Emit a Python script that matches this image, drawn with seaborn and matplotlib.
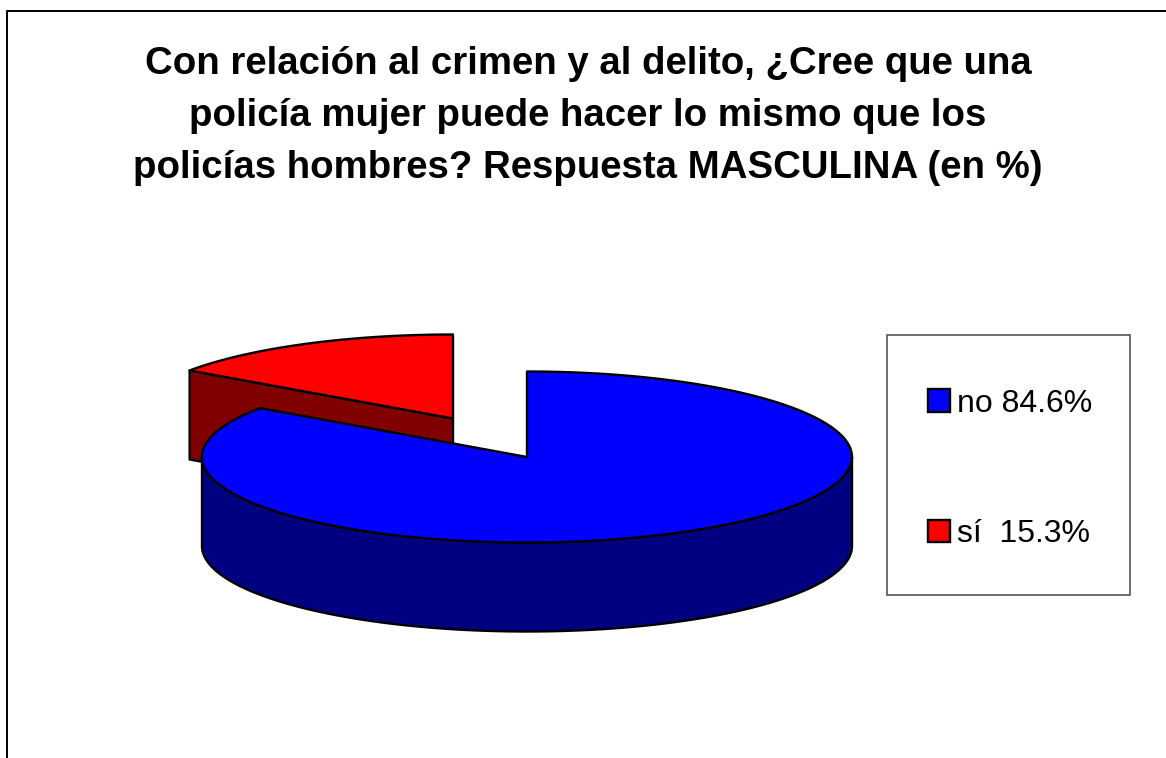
import numpy as np
import matplotlib
matplotlib.use("Agg")
import matplotlib.pyplot as plt
from matplotlib.patches import Patch, Rectangle
import seaborn as sns

# datos de la torta
categorias = ["no", "sí"]
valores = [84.6, 15.3]
etiquetas = ["no 84.6%", "sí  15.3%"]
colores_top = ["#0000ff", "#ff0000"]
colores_lado = ["#000080", "#800000"]
titulo = ("Con relación al crimen y al delito, ¿Cree que una\n"
          "policía mujer puede hacer lo mismo que los\n"
          "policías hombres? Respuesta MASCULINA (en %)")

sns.set_theme(style="white")
plt.rcParams["font.family"] = ["Liberation Sans", "DejaVu Sans"]

fig = plt.figure(figsize=(11.66, 7.58), dpi=100)
ax = fig.add_axes([0, 0, 1, 1])
ax.set_xlim(0, 1166)
ax.set_ylim(758, 0)
ax.axis("off")

# marco exterior: solo se ve arriba y a la izquierda
ax.plot([7, 7, 1166], [758, 11, 11], color="black", lw=1.4)

# geometria de cada porcion: centro, radios (perspectiva) y profundidad
centros = [(527, 457), (453, 418.5)]
radios = [(325, 85.5), (321, 84)]
prof = 89


def borde(c, r, ang):
    return c[0] + r[0] * np.sin(ang), c[1] - r[1] * np.cos(ang)


angulos = np.cumsum([0] + valores) / sum(valores) * 2 * np.pi
kw = dict(ec="black", lw=1.7, joinstyle="round")

# se dibuja primero la porcion de atras (sí)
for i in [1, 0]:
    c, r = centros[i], radios[i]
    ini, fin = angulos[i], angulos[i + 1]
    t = np.linspace(ini, fin, 200)
    x, y = borde(c, r, t)
    if i == 1:
        # cara del corte, la unica visible de esta porcion
        xe, ye = borde(c, r, ini)
        ax.fill([c[0], xe, xe, c[0]], [c[1], ye, ye + prof, c[1] + prof],
                fc=colores_lado[i], **kw)
    else:
        # pared frontal de la porcion grande
        tf = np.linspace(np.pi / 2, 3 * np.pi / 2, 200)
        xf, yf = borde(c, r, tf)
        ax.fill(np.r_[xf, xf[::-1]], np.r_[yf, yf[::-1] + prof],
                fc=colores_lado[i], **kw)
    ax.fill(np.r_[c[0], x], np.r_[c[1], y], fc=colores_top[i], **kw)

ax.text(588, 116, titulo, ha="center", va="center", fontsize=27.6,
        fontweight="bold", color="black", linespacing=1.58)

# leyenda
ax.add_patch(Rectangle((887, 335), 243, 260, fc="white", ec="#555555", lw=1.2))
handles = [Patch(fc=col, ec="black", lw=1.7) for col in colores_top]
ax.legend(handles, etiquetas, loc="center left", bbox_to_anchor=(928, 469),
          bbox_transform=ax.transData, frameon=False, fontsize=23,
          handlelength=0.69, handleheight=0.69, handletextpad=0.22,
          labelspacing=3.15, borderpad=0, borderaxespad=0, labelcolor="black")

fig.savefig("out.png", dpi=100)
